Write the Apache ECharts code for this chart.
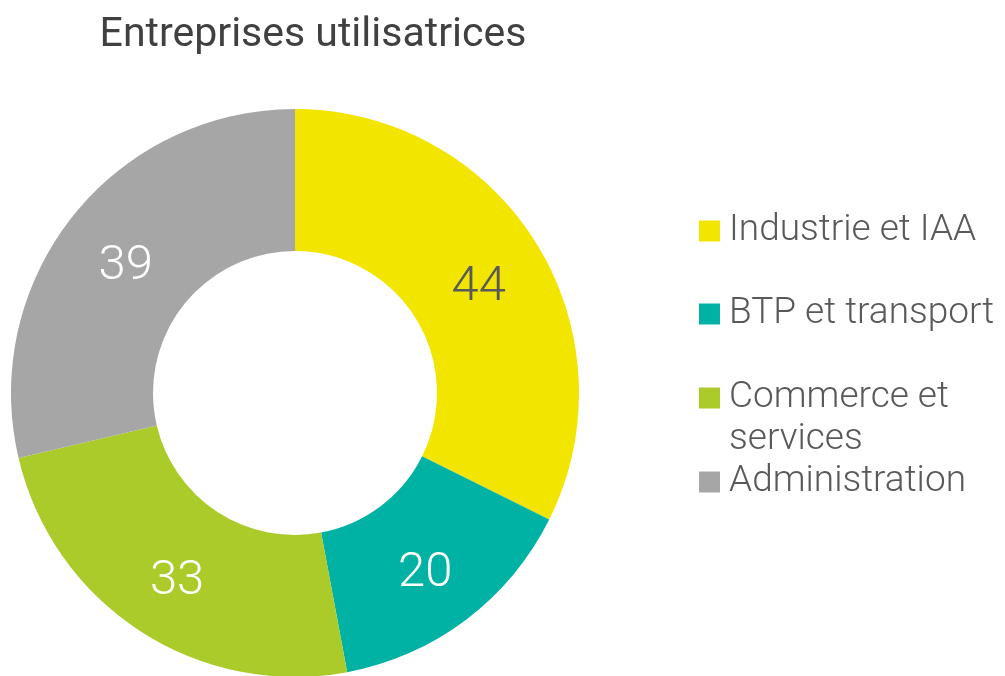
<!DOCTYPE html>
<html><head><meta charset="utf-8">
<script src="https://cdn.jsdelivr.net/npm/echarts@6/dist/echarts.min.js"></script>
<style>html,body{margin:0;padding:0;background:#fff}#c{width:1005px;height:676px}</style>
</head><body><div id="c"></div>
<script>
const categories = ["Industrie et IAA", "BTP et transport", "Commerce et services", "Administration"];
const values = [44, 20, 33, 39];
const legendLabels = ["Industrie et IAA", "BTP et transport", "\nCommerce et\nservices", "Administration"];
const colors = ["#F2E500", "#00B2A4", "#ABCB2B", "#A6A6A6"];
const labelColors = ["#595959", "#ffffff", "#ffffff", "#ffffff"];
const legendTops = [205, 288, 330, 456];

const chart = echarts.init(document.getElementById('c'));
const legends = categories.map((name, i) => ({
  orient: 'vertical',
  left: 694,
  top: legendTops[i],
  icon: 'rect',
  itemWidth: 21,
  itemHeight: 21,
  data: [name],
  formatter: () => legendLabels[i],
  textStyle: {
    fontFamily: 'Roboto',
    fontWeight: 300,
    fontSize: 37,
    color: '#595959',
    lineHeight: 42,
    padding: [0, 0, 0, 4]
  }
}));

chart.setOption({
  animation: false,
  title: {
    text: 'Entreprises utilisatrices',
    left: 308,
    textAlign: 'center',
    top: 10,
    textStyle: {fontFamily: 'Roboto', fontWeight: 400, fontSize: 41, color: '#404040'}
  },
  legend: legends,
  series: [{
    type: 'pie',
    center: [295, 393],
    radius: [142, 284],
    startAngle: 90,
    clockwise: true,
    avoidLabelOverlap: false,
    label: {
      show: true,
      position: 'inside',
      formatter: '{c}',
      fontFamily: 'Roboto',
      fontWeight: 300,
      fontSize: 49,
      offset: [0, 8]
    },
    labelLine: {show: false},
    emphasis: {scale: false},
    data: categories.map((name, i) => ({
      name, value: values[i],
      itemStyle: {color: colors[i]},
      label: {color: labelColors[i]}
    }))
  }]
});
</script></body></html>
